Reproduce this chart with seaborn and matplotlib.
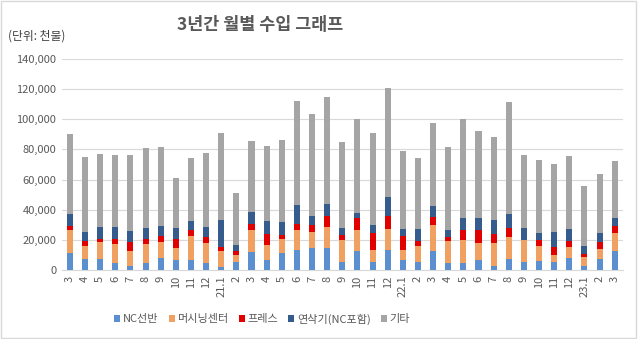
import numpy as np
import pandas as pd
import matplotlib
matplotlib.use("Agg")
import matplotlib.pyplot as plt
from matplotlib.patches import Patch, Rectangle
import seaborn as sns

months = ["3", "4", "5", "6", "7", "8", "9", "10", "11", "12",
          "21.1", "2", "3", "4", "5", "6", "7", "8", "9", "10", "11", "12",
          "22.1", "2", "3", "4", "5", "6", "7", "8", "9", "10", "11", "12",
          "23.1", "2", "3"]

nc_lathe = [11000, 7300, 7300, 4900, 2700, 4900, 8200, 6600, 6600, 4900,
            2200, 5300, 11900, 6600, 11000, 13300, 14600, 14600, 5300, 12600, 5300, 13300,
            6600, 5100, 12800, 4900, 4400, 6600, 2700, 7300, 5300, 6000, 5100, 7700,
            2700, 7300, 12600]
machining = [15500, 8900, 11500, 12400, 10100, 12600, 10600, 8000, 16200, 13200,
             10600, 4700, 14600, 10200, 9600, 13200, 10800, 13900, 14600, 13900, 8000, 13900,
             6700, 11100, 17100, 14600, 15500, 11500, 15400, 14800, 14400, 10200, 4900, 7600,
             6100, 6600, 12200]
press = [2900, 2800, 1800, 3300, 6000, 3100, 3500, 5800, 3500, 4000,
         2700, 2400, 4300, 6900, 2600, 4300, 4500, 7300, 3300, 7800, 11000, 8900,
         9500, 3000, 5100, 2200, 6400, 8200, 5600, 6000, 400, 3700, 5000, 3700,
         2000, 4700, 4600]
grinder = [8000, 6400, 8200, 8200, 7300, 7100, 6900, 7300, 6400, 6700,
           17700, 4400, 7900, 9000, 8700, 12600, 6200, 8200, 4900, 3800, 5600, 12400,
           4400, 8000, 7700, 4800, 8200, 8200, 9500, 9100, 7800, 4700, 10200, 8200,
           5100, 6200, 5100]
others = [52900, 49800, 48200, 47500, 50200, 53300, 52400, 33600, 41600, 49100,
          57700, 34300, 46900, 49600, 54400, 68800, 67400, 70800, 56900, 62100, 61000, 72300,
          51800, 47400, 55100, 55100, 65700, 57800, 55100, 74300, 48400, 48400, 45200, 48500,
          39900, 38900, 37800]

series_names = ["NC선반", "머시닝센터", "프레스", "연삭기(NC포함)", "기타"]
series_vals = [nc_lathe, machining, press, grinder, others]
colors = ["#5B8FD0", "#F0A060", "#E00000", "#355C8C", "#A5A5A5"]

sns.set_style("white")
plt.rcParams["font.family"] = ["Noto Sans CJK KR", "DejaVu Sans"]

fig = plt.figure(figsize=(6.38, 3.39), dpi=100)
ax = fig.add_axes([0.097, 0.2035, 0.879, 0.6225])

pos = list(range(len(months)))
cum = np.cumsum(np.array(series_vals, dtype=float), axis=0)
# draw from top (total) to bottom so lower segments overlay
for i in range(len(series_names) - 1, -1, -1):
    df = pd.DataFrame({"pos": pos, "val": cum[i]})
    sns.barplot(data=df, x="pos", y="val", color=colors[i], width=0.4,
                saturation=1, ax=ax, errorbar=None, linewidth=0, zorder=3)

ax.set_xlim(-0.53, len(months) - 0.47)
ax.set_ylim(0, 140000)
ax.set_yticks(np.arange(0, 140001, 20000))
ax.set_yticklabels([f"{v:,}" for v in range(0, 140001, 20000)],
                   fontsize=8, color="#595959")
ax.set_xticks(pos)
ax.set_xticklabels(months, rotation=90, fontsize=8, color="#595959")
ax.tick_params(axis="both", length=0, pad=4)
ax.set_xlabel("")
ax.set_ylabel("")
ax.grid(axis="y", color="#D9D9D9", linewidth=0.8, zorder=0)
ax.set_axisbelow(True)
for s in ["top", "right", "left"]:
    ax.spines[s].set_visible(False)
ax.spines["bottom"].set_color("#D9D9D9")
ax.spines["bottom"].set_linewidth(0.8)

fig.text(0.408, 0.925, "3년간 월별 수입 그래프", ha="center", va="center",
         fontsize=12.5, fontweight="bold", color="#595959")
fig.text(0.013, 0.895, "(단위: 천불)", ha="left", va="center",
         fontsize=8.5, color="#404040")

handles = [Patch(facecolor=c, edgecolor="none") for c in colors]
fig.legend(handles, series_names, loc="center", bbox_to_anchor=(0.411, 0.059),
           ncol=5, frameon=False, fontsize=8, handlelength=0.55, handleheight=0.55,
           handletextpad=0.25, columnspacing=0.9, labelcolor="#595959")

fig.patches.append(Rectangle((0.002, 0.003), 0.995, 0.994, transform=fig.transFigure,
                             fill=False, edgecolor="#D9D9D9", linewidth=1))

fig.savefig("out.png", dpi=100)
